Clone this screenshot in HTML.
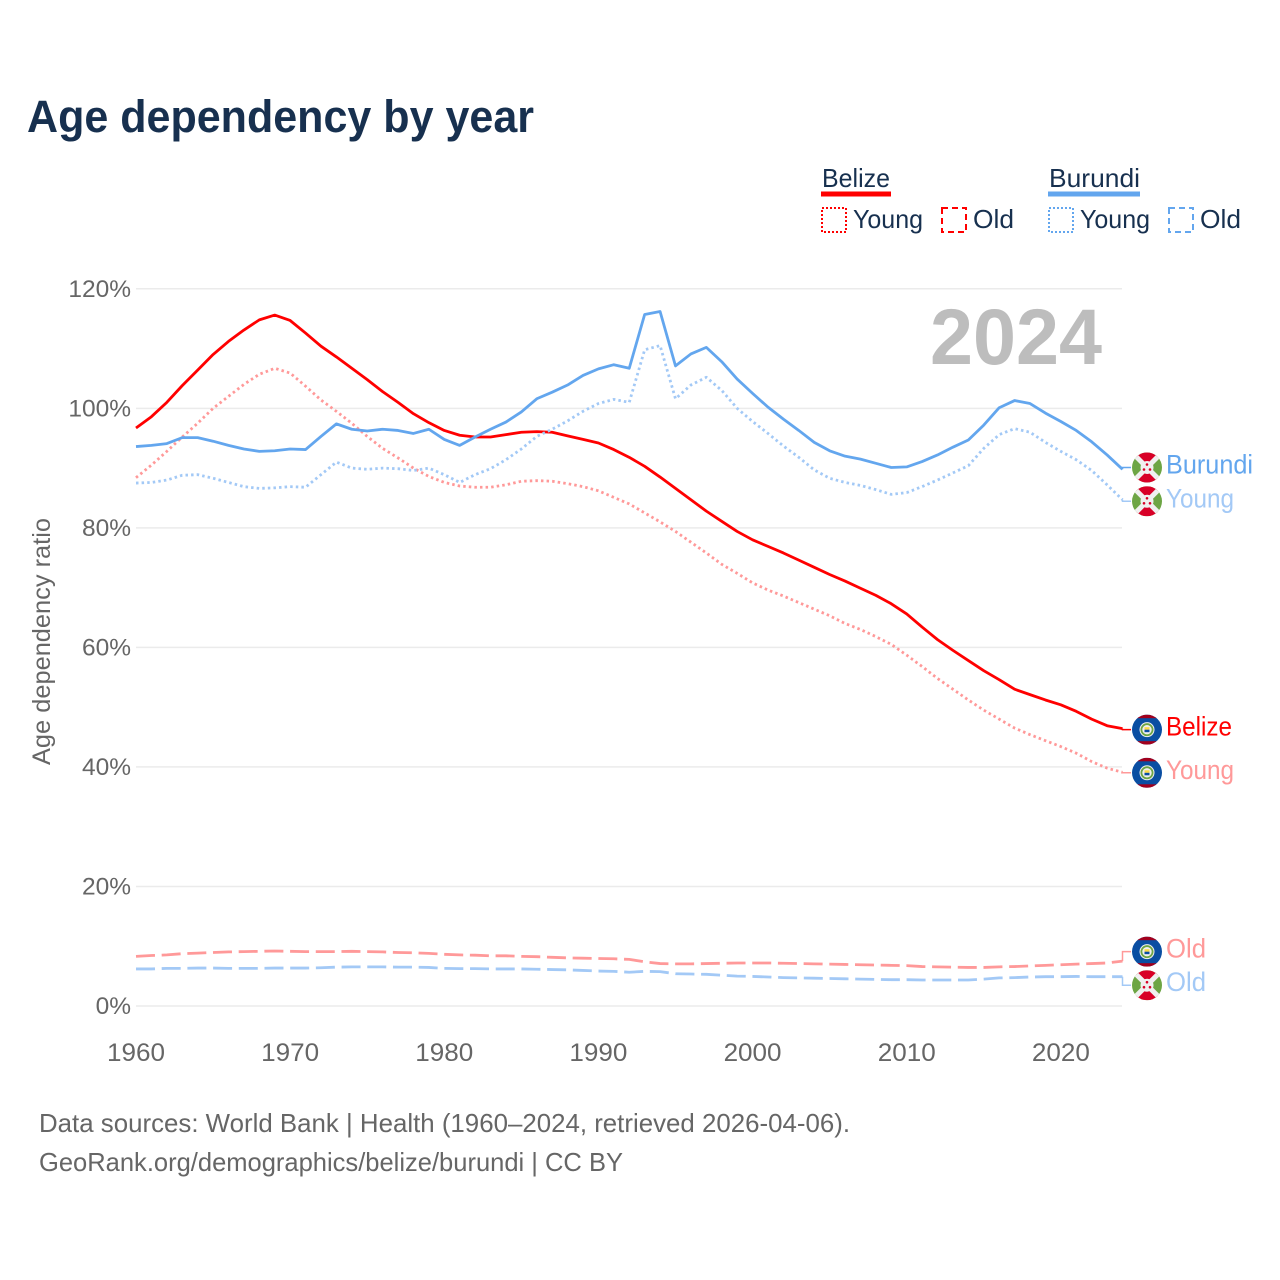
<!DOCTYPE html>
<html lang="en">
<head>
<meta charset="utf-8">
<title>Age dependency by year</title>
<style>
  html, body { margin: 0; padding: 0; background: #ffffff; }
  svg { display: block; font-family: "Liberation Sans", sans-serif; }
</style>
</head>
<body>
<svg id="chart" xmlns="http://www.w3.org/2000/svg" width="1280" height="1280" viewBox="0 0 1280 1280">
  <defs>
    <clipPath id="flag-clip"><circle cx="0" cy="0" r="15"></circle></clipPath>
  </defs>
  <rect x="0" y="0" width="1280" height="1280" fill="#ffffff"></rect>
  <text x="27" y="132" font-size="45" font-weight="700" fill="#17304f" textLength="507" lengthAdjust="spacingAndGlyphs">Age dependency by year</text>

  <g>
    <g>
      <text x="822" y="187" font-size="26" fill="#17304f" textLength="68" lengthAdjust="spacingAndGlyphs">Belize</text>
      <rect x="821" y="191.5" width="70" height="5" fill="#ff0000"></rect>
    </g>
    <g>
      <rect x="822" y="208" width="24" height="24" fill="none" stroke="#ff0000" stroke-width="2" stroke-dasharray="2 2"></rect>
      <text x="853" y="228" font-size="26" fill="#17304f" textLength="70" lengthAdjust="spacingAndGlyphs">Young</text>
    </g>
    <g>
      <rect x="942" y="208" width="24" height="24" fill="none" stroke="#ff0000" stroke-width="2" stroke-dasharray="6 4"></rect>
      <text x="973" y="228" font-size="26" fill="#17304f" textLength="41" lengthAdjust="spacingAndGlyphs">Old</text>
    </g>
    <g>
      <text x="1049" y="187" font-size="26" fill="#17304f" textLength="91" lengthAdjust="spacingAndGlyphs">Burundi</text>
      <rect x="1048" y="191.5" width="92" height="5" fill="#63a6ee"></rect>
    </g>
    <g>
      <rect x="1049" y="208" width="24" height="24" fill="none" stroke="#63a6ee" stroke-width="2" stroke-dasharray="2 2"></rect>
      <text x="1080" y="228" font-size="26" fill="#17304f" textLength="70" lengthAdjust="spacingAndGlyphs">Young</text>
    </g>
    <g>
      <rect x="1169" y="208" width="24" height="24" fill="none" stroke="#63a6ee" stroke-width="2" stroke-dasharray="6 4"></rect>
      <text x="1200" y="228" font-size="26" fill="#17304f" textLength="41" lengthAdjust="spacingAndGlyphs">Old</text>
    </g>
  </g>

  <g id="grid"></g>
  <g id="y-ticks"></g>
  <g id="x-ticks"></g>
  <text transform="translate(50 765) rotate(-90)" x="0" y="0" font-size="25" fill="#666666" textLength="247" lengthAdjust="spacingAndGlyphs">Age dependency ratio</text>
  <text x="930" y="364" font-size="79" font-weight="700" fill="#bdbdbd" textLength="172" lengthAdjust="spacingAndGlyphs">2024</text>

  <g id="series"></g>
  <g id="end-labels"></g>

  <text x="39" y="1132" font-size="26" fill="#666666" textLength="811" lengthAdjust="spacingAndGlyphs">Data sources: World Bank | Health (1960–2024, retrieved 2026-04-06).</text>
  <text x="39" y="1171" font-size="26" fill="#666666" textLength="584" lengthAdjust="spacingAndGlyphs">GeoRank.org/demographics/belize/burundi | CC BY</text>
</svg>

<script>
const years = [
  1960,1961,1962,1963,1964,1965,1966,1967,1968,1969,
  1970,1971,1972,1973,1974,1975,1976,1977,1978,1979,
  1980,1981,1982,1983,1984,1985,1986,1987,1988,1989,
  1990,1991,1992,1993,1994,1995,1996,1997,1998,1999,
  2000,2001,2002,2003,2004,2005,2006,2007,2008,2009,
  2010,2011,2012,2013,2014,2015,2016,2017,2018,2019,
  2020,2021,2022,2023,2024
];
const belizeTotal = [
  96.7,98.6,101.0,103.8,106.4,109.0,111.2,113.1,114.8,115.6,
  114.7,112.6,110.4,108.6,106.7,104.8,102.8,101.0,99.1,97.6,
  96.3,95.5,95.2,95.2,95.6,96.0,96.1,96.0,95.4,94.8,
  94.2,93.1,91.8,90.3,88.5,86.6,84.7,82.8,81.1,79.4,
  78.0,76.9,75.8,74.6,73.4,72.2,71.1,69.9,68.7,67.3,
  65.6,63.4,61.3,59.5,57.8,56.1,54.6,53.0,52.1,51.2,
  50.4,49.3,48.0,46.9,46.4
];
const belizeYoung = [
  88.4,90.5,92.8,95.2,97.5,100.0,102.0,104.0,105.7,106.7,
  105.9,103.7,101.4,99.5,97.5,95.3,93.3,91.7,90.0,88.6,
  87.6,87.0,86.8,86.8,87.2,87.8,87.9,87.8,87.4,86.9,
  86.2,85.1,84.0,82.5,81.0,79.4,77.6,75.8,73.9,72.4,
  70.8,69.6,68.6,67.5,66.4,65.3,64.0,63.0,61.8,60.5,
  58.7,56.8,54.8,53.0,51.2,49.5,48.0,46.5,45.4,44.4,
  43.4,42.3,40.9,39.8,39.1
];
const belizeOld = [
  8.3,8.45,8.55,8.75,8.85,8.95,9.05,9.1,9.15,9.2,
  9.15,9.1,9.1,9.1,9.15,9.1,9.05,8.95,8.9,8.8,
  8.65,8.55,8.5,8.4,8.4,8.3,8.25,8.15,8.05,8.0,
  7.95,7.9,7.8,7.4,7.1,7.05,7.05,7.1,7.15,7.2,
  7.2,7.2,7.15,7.1,7.05,7.0,6.95,6.9,6.85,6.8,
  6.75,6.6,6.55,6.5,6.45,6.45,6.55,6.6,6.7,6.8,
  6.9,7.0,7.1,7.2,7.5
];
const burundiTotal = [
  93.6,93.8,94.1,95.1,95.1,94.5,93.8,93.2,92.8,92.9,
  93.2,93.1,95.3,97.4,96.5,96.2,96.5,96.3,95.8,96.5,
  94.8,93.8,95.2,96.5,97.7,99.4,101.6,102.7,103.9,105.5,
  106.6,107.3,106.7,115.7,116.2,107.1,109.1,110.2,107.8,104.9,
  102.5,100.2,98.2,96.3,94.3,92.9,92.0,91.5,90.8,90.1,
  90.2,91.1,92.2,93.5,94.7,97.2,100.1,101.3,100.8,99.2,
  97.8,96.3,94.4,92.2,89.8
];
const burundiYoung = [
  87.5,87.6,88.0,88.8,88.9,88.3,87.6,86.9,86.6,86.7,
  86.9,86.8,88.9,91.0,90.0,89.8,90.0,89.9,89.6,90.0,
  88.9,87.6,88.9,89.9,91.4,93.2,95.3,96.5,97.9,99.5,
  100.8,101.5,101.0,109.8,110.5,101.6,103.9,105.2,103.0,100.0,
  97.8,95.8,93.7,91.8,89.7,88.3,87.6,87.1,86.4,85.6,
  85.9,86.9,88.0,89.2,90.4,93.3,95.6,96.6,96.0,94.3,
  92.8,91.4,89.6,87.2,84.7
];
const burundiOld = [
  6.2,6.2,6.3,6.3,6.35,6.35,6.3,6.3,6.3,6.35,
  6.35,6.35,6.4,6.5,6.55,6.55,6.55,6.5,6.5,6.45,
  6.3,6.25,6.25,6.2,6.2,6.2,6.15,6.1,6.05,5.95,
  5.85,5.8,5.65,5.8,5.75,5.4,5.35,5.3,5.15,5.0,
  4.95,4.85,4.75,4.7,4.65,4.6,4.55,4.5,4.45,4.4,
  4.4,4.35,4.35,4.35,4.35,4.5,4.7,4.75,4.85,4.9,
  4.9,4.95,4.9,4.9,4.9
];
const yTickValues = [0, 20, 40, 60, 80, 100, 120];
const yTickLabels = ["0%", "20%", "40%", "60%", "80%", "100%", "120%"];
const xTickValues = [1960, 1970, 1980, 1990, 2000, 2010, 2020];
const xTickLabels = ["1960", "1970", "1980", "1990", "2000", "2010", "2020"];

const NS = "http://www.w3.org/2000/svg";
const RED = "#ff0000", BLUE = "#63a6ee", LIGHT_RED = "#ff9999", LIGHT_BLUE = "#a3c9f6";

function xScale(year) { return 136 + (year - 1960) * (1122.5 - 136) / 64; }
function yScale(value) { return 1006 - value * (1006 - 288.8) / 120; }

function make(tag, attrs, parent) {
  const node = document.createElementNS(NS, tag);
  for (const key in attrs) node.setAttribute(key, attrs[key]);
  parent.appendChild(node);
  return node;
}

const gridGroup = document.getElementById("grid");
const yTickGroup = document.getElementById("y-ticks");
yTickValues.forEach(function (value, i) {
  const line = make("line", { x1: 136, x2: 1122, y1: yScale(value), y2: yScale(value), stroke: "#ebebeb", "stroke-width": 1.5 }, gridGroup);
  
  
  const label = make("text", { x: 131, y: yScale(value) + 8, "text-anchor": "end", "font-size": 24.5, fill: "#666666" }, yTickGroup);
  
  
  label.textContent = yTickLabels[i];
});

const xTickGroup = document.getElementById("x-ticks");
xTickValues.forEach(function (value, i) {
  const label = make("text", { x: xScale(value), y: 1061, "text-anchor": "middle", "font-size": 25, fill: "#666666", textLength: 58, lengthAdjust: "spacingAndGlyphs" }, xTickGroup);
  
  
  label.textContent = xTickLabels[i];
});

function drawLine(values, color, width, dash, name) {
  const d = values.map(function (v, i) {
    return (i ? "L" : "M") + xScale(years[i]).toFixed(2) + " " + yScale(v).toFixed(2);
  }).join(" ");
  const attrs = { d: d, fill: "none", stroke: color, "stroke-width": width, "stroke-linejoin": "round" };
  if (dash) attrs["stroke-dasharray"] = dash;
  const path = make("path", attrs, document.getElementById("series"));
  
  
}

drawLine(belizeYoung, LIGHT_RED, 2.8, "2.5 3.1", "belize-young-line");
drawLine(belizeOld, LIGHT_RED, 2.8, "19 6.7", "belize-old-line");
drawLine(belizeTotal, RED, 2.8, "", "belize-total-line");
drawLine(burundiYoung, LIGHT_BLUE, 2.8, "2.5 3.1", "burundi-young-line");
drawLine(burundiOld, LIGHT_BLUE, 2.8, "19 6.7", "burundi-old-line");
drawLine(burundiTotal, BLUE, 2.8, "", "burundi-total-line");

function drawBurundiFlag(group) {
  const clip = make("g", { "clip-path": "url(#flag-clip)" }, group);
  make("rect", { x: -15, y: -15, width: 30, height: 30, fill: "#6da544" }, clip);
  make("polygon", { points: "-15,-15 15,-15 0,0", fill: "#d80027" }, clip);
  make("polygon", { points: "-15,15 15,15 0,0", fill: "#d80027" }, clip);
  make("line", { x1: -15, y1: -15, x2: 15, y2: 15, stroke: "#f0f0f0", "stroke-width": 5 }, clip);
  make("line", { x1: 15, y1: -15, x2: -15, y2: 15, stroke: "#f0f0f0", "stroke-width": 5 }, clip);
  make("circle", { cx: 0, cy: 0, r: 6.5, fill: "#f0f0f0" }, clip);
  make("circle", { cx: 0, cy: -3, r: 1.3, fill: "#d80027" }, clip);
  make("circle", { cx: -3, cy: 2, r: 1.3, fill: "#d80027" }, clip);
  make("circle", { cx: 3, cy: 2, r: 1.3, fill: "#d80027" }, clip);
}

function drawBelizeFlag(group) {
  const clip = make("g", { "clip-path": "url(#flag-clip)" }, group);
  make("rect", { x: -15, y: -15, width: 30, height: 30, fill: "#0a4ea2" }, clip);
  make("rect", { x: -15, y: -15, width: 30, height: 3.5, fill: "#a2001d" }, clip);
  make("rect", { x: -15, y: 11.5, width: 30, height: 3.5, fill: "#a2001d" }, clip);
  make("circle", { cx: 0, cy: 0, r: 7.5, fill: "#f0f0f0" }, clip);
  make("circle", { cx: 0, cy: 0, r: 5.6, fill: "none", stroke: "#6da544", "stroke-width": 1.8 }, clip);
  make("rect", { x: -2.5, y: -2.5, width: 5, height: 2.5, fill: "#ffda44" }, clip);
  make("rect", { x: -2.5, y: 0, width: 5, height: 2.5, fill: "#0a4ea2" }, clip);
}

function drawEndLabel(values, offset, text, color, textWidth, flagFn, name) {
  const group = make("g", {}, document.getElementById("end-labels"));
  
  
  const lastValue = values[values.length - 1];
  const endX = xScale(years[years.length - 1]);
  const endY = yScale(lastValue);
  const labelY = endY + offset;
  const leader = make("path", { d: "M" + endX + " " + endY + " V" + labelY + " H1131", fill: "none", stroke: color, "stroke-width": 1.5 }, group);
  
  
  const flag = make("g", { transform: "translate(1147 " + labelY + ")" }, group);
  
  
  flagFn(flag);
  const label = make("text", { x: 1166, y: labelY + 6, "font-size": 26.5, fill: color, textLength: textWidth, lengthAdjust: "spacingAndGlyphs" }, group);
  
  
  label.textContent = text;
}

drawEndLabel(burundiTotal, -1.8, "Burundi", BLUE, 87, drawBurundiFlag, "end-label-burundi-total");
drawEndLabel(burundiYoung, 1.5, "Young", LIGHT_BLUE, 68, drawBurundiFlag, "end-label-burundi-young");
drawEndLabel(belizeTotal, 1, "Belize", RED, 66, drawBelizeFlag, "end-label-belize-total");
drawEndLabel(belizeYoung, 0.5, "Young", LIGHT_RED, 68, drawBelizeFlag, "end-label-belize-young");
drawEndLabel(belizeOld, -9.5, "Old", LIGHT_RED, 40, drawBelizeFlag, "end-label-belize-old");
drawEndLabel(burundiOld, 8.5, "Old", LIGHT_BLUE, 40, drawBurundiFlag, "end-label-burundi-old");
</script>
</body>
</html>
